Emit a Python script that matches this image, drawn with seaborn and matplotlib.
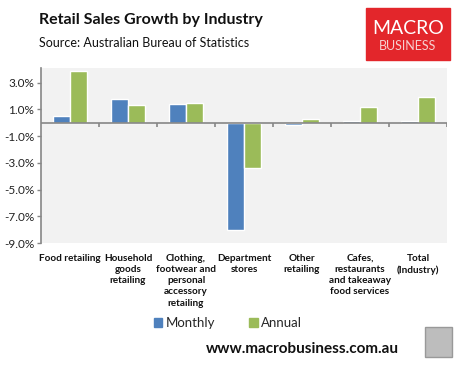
import matplotlib
matplotlib.use("Agg")
import matplotlib.pyplot as plt
import matplotlib.patches as mpatches
import seaborn as sns
import pandas as pd
import numpy as np

# data (percent)
categories = ["Food retailing",
              "Household\ngoods\nretailing",
              "Clothing,\nfootwear and\npersonal\naccessory\nretailing",
              "Department\nstores",
              "Other\nretailing",
              "Cafes,\nrestaurants\nand takeaway\nfood services",
              "Total\n(Industry)"]
monthly = [0.5, 1.8, 1.4, -8.0, -0.2, 0.1, 0.1]
annual = [3.9, 1.3, 1.5, -3.4, 0.3, 1.2, 1.9]
yticks = [3.0, 1.0, -1.0, -3.0, -5.0, -7.0, -9.0]

df = pd.DataFrame({
    "cat": categories * 2,
    "value": monthly + annual,
    "series": ["Monthly"] * len(categories) + ["Annual"] * len(categories),
})

sns.set_theme(style="white")
plt.rcParams['font.family'] = ['Lato', 'DejaVu Sans']

W, H = 466, 367
fig = plt.figure(figsize=(W / 100, H / 100), dpi=100)
fig.patch.set_facecolor("white")
ax = fig.add_axes([41 / W, 1 - 243 / H, 406 / W, 175 / H])
ax.set_facecolor("#F2F2F2")

sns.barplot(data=df, x="cat", y="value", hue="series",
            palette={"Monthly": "#4F81BD", "Annual": "#9BBB59"},
            width=0.58, gap=0, saturation=1, ax=ax, legend=False)

ax.set_ylim(-9.0, 4.1)
ax.set_xlim(-0.5, len(categories) - 0.5)
ax.set_yticks(yticks)
ax.set_yticklabels(["%.1f%%" % v for v in yticks], fontsize=8.5, color="#222222")
ax.set_xticks(range(len(categories)))
ax.set_xticklabels(categories, fontsize=7.2, fontweight="bold", linespacing=1.3,
                   va="top", color="#111111")
ax.tick_params(axis="x", length=0, pad=8)
ax.tick_params(axis="y", length=3, width=1, color="#868686", direction="out", pad=2, left=True)
ax.set_xlabel("")
ax.set_ylabel("")
for s in ["top", "right", "bottom"]:
    ax.spines[s].set_visible(False)
ax.spines["left"].set_color("#868686")
ax.spines["left"].set_linewidth(1.2)

# zero line with category boundary ticks
ax.axhline(0, color="#868686", lw=1.2, zorder=3)
bounds = np.arange(len(categories)) + 0.5
ax.vlines(bounds, -0.35, 0, color="#868686", lw=1.2, zorder=3)

# legend
handles = [mpatches.Patch(color="#4F81BD", label="Monthly"),
           mpatches.Patch(color="#9BBB59", label="Annual")]
fig.legend(handles=handles, loc="center", bbox_to_anchor=(228 / W, 1 - 323 / H),
           ncol=2, frameon=False, fontsize=9.5, handlelength=0.65, handleheight=0.65,
           handletextpad=0.25, columnspacing=2.6)

# titles
fig.text(39 / W, 1 - 20 / H, "Retail Sales Growth by Industry", fontsize=11.5,
         fontweight="bold", va="center", ha="left", color="#111111")
fig.text(39 / W, 1 - 43 / H, "Source: Australian Bureau of Statistics", fontsize=9,
         va="center", ha="left", color="#111111")

# logo box
fig.patches.append(mpatches.Rectangle((366 / W, 1 - 60 / H), 84 / W, 52 / H,
                                      transform=fig.transFigure, color="#E3262B", zorder=0))
fig.text(408 / W, 1 - 29 / H, "MACRO", fontsize=14, color="white", ha="center", va="center")
fig.text(408 / W, 1 - 46 / H, "BUSINESS", fontsize=9, color="#F6D0D0", ha="center", va="center")

# footer
fig.text(302 / W, 1 - 349 / H, "www.macrobusiness.com.au", fontsize=11, fontweight="bold",
         ha="center", va="center", color="#111111")
fig.patches.append(mpatches.Rectangle((425 / W, 1 - 357 / H), 27 / W, 30 / H,
                                      transform=fig.transFigure, facecolor="#BDBDBD",
                                      edgecolor="#999999", lw=1))

fig.savefig("out.png", dpi=100)
